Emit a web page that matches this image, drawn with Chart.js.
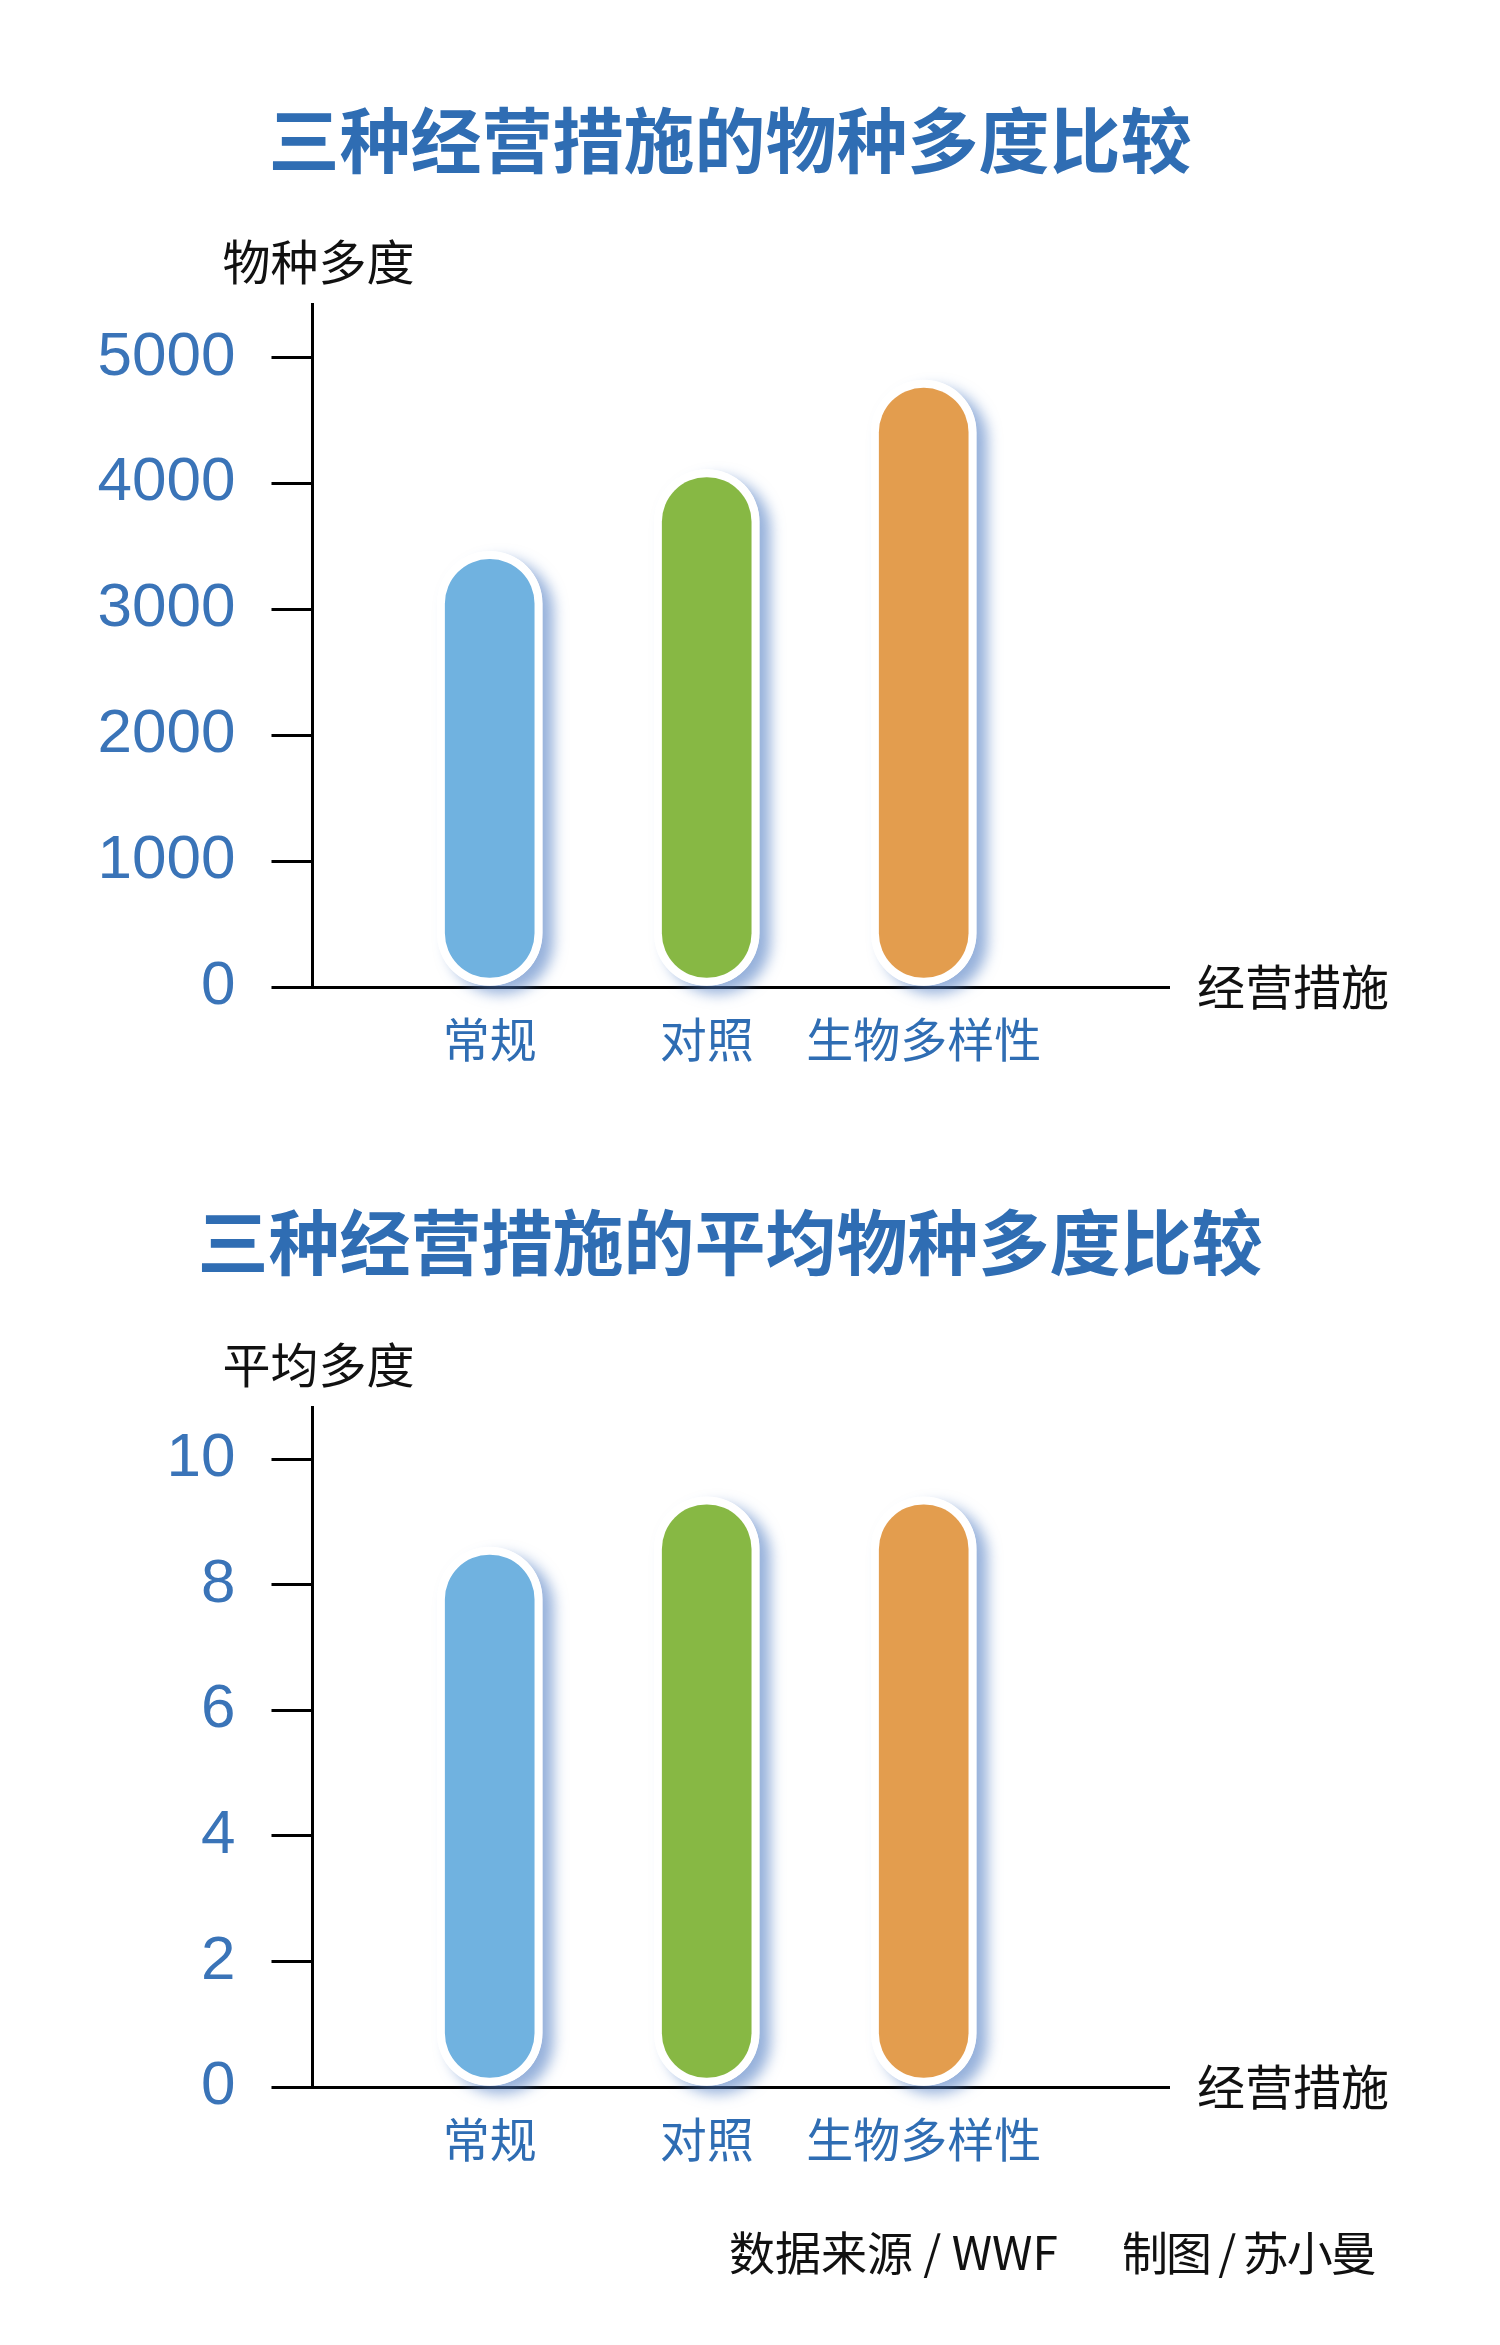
<!DOCTYPE html>
<html lang="zh-CN">
<head>
<meta charset="utf-8">
<title>三种经营措施的物种多度比较</title>
<script src="https://cdn.jsdelivr.net/npm/chart.js@4.4.1/dist/chart.umd.min.js"></script>
<style>
  html, body { margin: 0; padding: 0; background: #fff; }
  #page { position: relative; width: 1500px; height: 2345px; }
  canvas { position: absolute; left: 0; }
  #c1 { top: 0; }
  #c2 { top: 1130px; }
  .credit {
    position: absolute; top: 2224px;
    font-family: "Noto Sans CJK SC", sans-serif; font-size: 46px; line-height: 52px;
    color: #111; white-space: pre;
  }
  #source { left: 729px; }
  #maker { left: 1122px; letter-spacing: -2px; }
</style>
</head>
<body>
<div id="page">
  <canvas id="c1" width="1500" height="1130"></canvas>
  <canvas id="c2" width="1500" height="1100"></canvas>
  <div class="credit" id="source">数据来源 / WWF</div>
  <div class="credit" id="maker">制图 / 苏小曼</div>
</div>
<script>
const categories = ['常规', '对照', '生物多样性'];
const richnessValues = [3460, 4110, 4820];
const richnessTicks = [0, 1000, 2000, 3000, 4000, 5000];
const meanValues = [8.6, 9.4, 9.4];
const meanTicks = [0, 2, 4, 6, 8, 10];
const barColors = ['#70b2e0', '#87b844', '#e39d4e'];

const BLUE = '#2f6db3';
const CJK = '"Noto Sans CJK SC", "Noto Sans", sans-serif';

// soft blue shadow under the pill shaped bars
const barShadow = {
    id: 'barShadow',
    beforeDatasetDraw(chart, args) {
        if (!chart.data.datasets[args.index].shadowLayer) return;
        const ctx = chart.ctx;
        ctx.save();
        ctx.shadowColor = 'rgba(80, 125, 195, 0.6)';
        ctx.shadowBlur = 14;
        ctx.shadowOffsetX = 11;
        ctx.shadowOffsetY = 8;
    },
    afterDatasetDraw(chart, args) {
        if (chart.data.datasets[args.index].shadowLayer) chart.ctx.restore();
    }
};

// axis names: one above the y axis, one at the right end of the x axis
const axisText = {
    id: 'axisText',
    afterDraw(chart, args, opts) {
        const ctx = chart.ctx;
        const area = chart.chartArea;
        ctx.save();
        ctx.fillStyle = '#111';
        ctx.font = '48px ' + CJK;
        ctx.textBaseline = 'middle';
        ctx.textAlign = 'left';
        ctx.fillText(opts.y, area.left - 90, area.top - 42);
        ctx.fillText(opts.x, chart.scales.x.right + 27, chart.scales.y.getPixelForValue(0));
        ctx.restore();
    }
};

function makeChart(id, title, values, ticks, yMax, yName, titlePad) {
    const points = categories.map((c, i) => ({ x: i + 1, y: values[i] }));
    return new Chart(document.getElementById(id), {
        type: 'bar',
        data: {
            datasets: [
                {
                    data: points,
                    backgroundColor: barColors,
                    borderColor: '#ffffff',
                    borderWidth: 8,
                    borderRadius: 60,
                    borderSkipped: false,
                    barThickness: 105,
                    grouped: false,
                    order: 1
                },
                {
                    data: points,
                    shadowLayer: true,
                    backgroundColor: '#ffffff',
                    borderWidth: 0,
                    borderRadius: 60,
                    borderSkipped: false,
                    barThickness: 105,
                    grouped: false,
                    clip: false,
                    order: 2
                }
            ]
        },
        options: {
            responsive: false,
            animation: false,
            devicePixelRatio: 1,
            events: [],
            layout: { padding: { left: 0, right: 40, top: 0, bottom: 38.6 } },
            plugins: {
                legend: { display: false },
                tooltip: { enabled: false },
                title: {
                    display: true,
                    text: title,
                    color: BLUE,
                    font: { family: CJK, size: 71, weight: 'bold' },
                    padding: titlePad
                },
                axisText: { y: yName, x: '经营措施' }
            },
            scales: {
                x: {
                    type: 'linear',
                    offset: false,
                    min: 0.1834,
                    max: 4.135,
                    afterBuildTicks: (scale) => { scale.ticks = categories.map((c, i) => ({ value: i + 1 })); },
                    grid: { display: false, drawTicks: false, tickLength: 0, offset: false },
                    border: { display: false },
                    ticks: {
                        autoSkip: false,
                        maxRotation: 0,
                        padding: 24,
                        color: BLUE,
                        font: { family: CJK, size: 47 },
                        callback: (v) => categories[v - 1]
                    }
                },
                y: {
                    min: 0,
                    max: yMax,
                    afterBuildTicks: (scale) => { scale.ticks = ticks.map((v) => ({ value: v })); },
                    afterFit: (scale) => { scale.width = 312.5; },
                    grid: {
                        drawOnChartArea: true,
                        color: (c) => (c.tick && c.tick.value === 0 ? '#000' : 'rgba(0,0,0,0)'),
                        lineWidth: 3,
                        tickLength: 41,
                        tickColor: '#000',
                        tickWidth: 3
                    },
                    border: { display: true, color: '#000', width: 3 },
                    ticks: {
                        padding: 36,
                        color: '#3a74b8',
                        font: { family: '"Liberation Sans", Arial, sans-serif', size: 62 },
                        callback: (v) => String(v)
                    }
                },
                // empty spacer on the right so the plot stops where the axis line ends
                yR: {
                    type: 'linear',
                    position: 'right',
                    afterFit: (scale) => { scale.width = 290; },
                    grid: { display: false, drawTicks: false },
                    border: { display: false },
                    ticks: { display: false }
                }
            }
        },
        plugins: [barShadow, axisText]
    });
}

makeChart('c1', '三种经营措施的物种多度比较', richnessValues, richnessTicks, 5425, '物种多度',
    { top: 97.4, bottom: 121.4 });
makeChart('c2', '三种经营措施的平均物种多度比较', meanValues, meanTicks, 10.83, '平均多度',
    { top: 69.4, bottom: 122.4 });
</script>
</body>
</html>
